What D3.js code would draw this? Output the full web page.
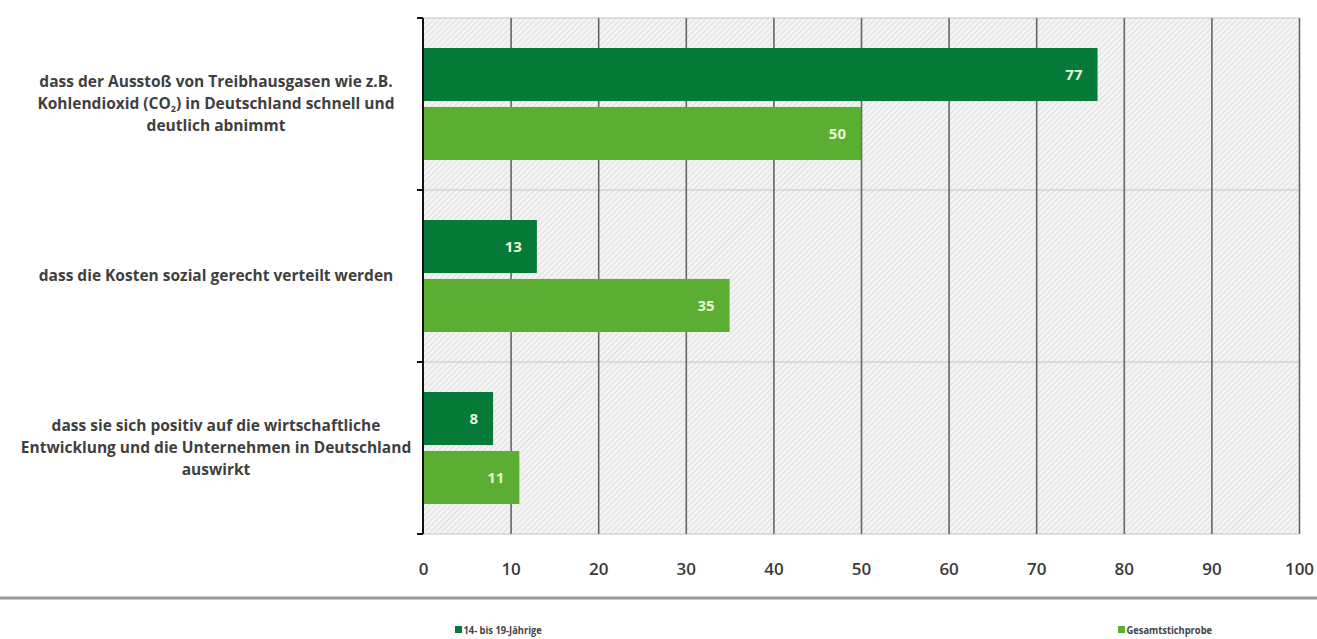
<!DOCTYPE html>
<html lang="de">
<head>
  <meta charset="UTF-8">
  <title>Klimaschutz</title>
  <script src="https://d3js.org/d3.v7.min.js"></script>
  <style>
    * { margin: 0; padding: 0; box-sizing: border-box; }
    body { background: #fff; font-family: "Open Sans", Arial, sans-serif; }
  </style>
</head>
<body>
  <div id="chart"></div>
  <script>
    // data
    const categories = [
      ["dass der Ausstoß von Treibhausgasen wie z.B.", "Kohlendioxid (CO_2) in Deutschland schnell und", "deutlich abnimmt"],
      ["dass die Kosten sozial gerecht verteilt werden"],
      ["dass sie sich positiv auf die wirtschaftliche", "Entwicklung und die Unternehmen in Deutschland", "auswirkt"]
    ];
    const seriesNames = ["14- bis 19-Jährige", "Gesamtstichprobe"];
    const youthValues = [77, 13, 8];
    const totalValues = [50, 35, 11];
    const xTicks = [0, 10, 20, 30, 40, 50, 60, 70, 80, 90, 100];

    const colors = ["#067a38", "#5aae32"];

    const W = 1317, H = 639;
    const plot = {left: 423, right: 1299, top: 18, bottom: 534};

    const svg = d3.select("#chart").append("svg")
      .attr("width", W).attr("height", H);

    const defs = svg.append("defs");
    const pat = defs.append("pattern")
      .attr("id", "hatch")
      .attr("patternUnits", "userSpaceOnUse")
      .attr("width", 4).attr("height", 4)
      .attr("patternTransform", "rotate(45)");
    pat.append("rect").attr("width", 4).attr("height", 4).attr("fill", "#f4f4f4");
    pat.append("line").attr("x1", 0).attr("y1", 0).attr("x2", 0).attr("y2", 4)
      .attr("stroke", "#d9d9d9").attr("stroke-width", 1.6);

    const x = d3.scaleLinear().domain([0, 100]).range([plot.left, plot.right]);
    const y = d3.scaleBand().domain(d3.range(categories.length))
      .range([plot.top, plot.bottom]);
    const yIn = d3.scaleBand().domain(d3.range(seriesNames.length))
      .range([30, y.bandwidth() - 30]).paddingInner(0.1);

    // hatched plot background
    svg.append("rect")
      .attr("x", plot.left).attr("y", plot.top)
      .attr("width", plot.right - plot.left).attr("height", plot.bottom - plot.top)
      .attr("fill", "url(#hatch)");

    // horizontal light grid at category boundaries
    svg.append("g")
      .selectAll("line")
      .data(d3.range(categories.length + 1))
      .join("line")
      .attr("x1", plot.left).attr("x2", plot.right)
      .attr("y1", i => i < categories.length ? y(i) : plot.bottom)
      .attr("y2", i => i < categories.length ? y(i) : plot.bottom)
      .attr("stroke", "#d4d4d4").attr("stroke-width", 1.5);

    // vertical grid + tick labels
    const xAxis = svg.append("g")
      .attr("transform", `translate(0,${plot.bottom})`)
      .call(d3.axisBottom(x).tickValues(xTicks).tickSize(plot.bottom - plot.top).tickPadding(0));
    xAxis.select(".domain").remove();
    xAxis.selectAll(".tick line")
      .attr("y2", -(plot.bottom - plot.top))
      .attr("stroke", "#666").attr("stroke-width", 1.6)
      .attr("opacity", d => d === 0 ? 0 : 1);
    xAxis.selectAll(".tick text")
      .attr("y", 35)
      .attr("dy", "0.35em")
      .attr("fill", "#3a3a3a")
      .style("font-family", "'Open Sans', sans-serif")
      .style("font-weight", 600)
      .style("font-size", "17px");

    // bars
    const rows = categories.map((c, i) => [youthValues[i], totalValues[i]]);
    const groups = svg.append("g").selectAll("g")
      .data(rows)
      .join("g")
      .attr("transform", (d, i) => `translate(0,${y(i)})`);

    groups.selectAll("rect")
      .data(d => d)
      .join("rect")
      .attr("x", x(0))
      .attr("y", (d, j) => yIn(j))
      .attr("width", d => x(d) - x(0))
      .attr("height", yIn.bandwidth())
      .attr("fill", (d, j) => colors[j]);

    groups.selectAll("text")
      .data(d => d)
      .join("text")
      .attr("x", d => x(d) - 15)
      .attr("y", (d, j) => yIn(j) + yIn.bandwidth() / 2)
      .attr("dy", "0.36em")
      .attr("text-anchor", "end")
      .attr("fill", "#eaf6d8")
      .style("font-family", "'Open Sans', sans-serif")
      .style("font-weight", 700)
      .style("font-size", "15px")
      .text(d => d);

    // left axis with outward ticks
    const yAxis = svg.append("g");
    yAxis.append("line")
      .attr("x1", plot.left).attr("x2", plot.left)
      .attr("y1", plot.top).attr("y2", plot.bottom)
      .attr("stroke", "#111").attr("stroke-width", 2);
    yAxis.selectAll(".tk")
      .data(d3.range(categories.length + 1))
      .join("line")
      .attr("class", "tk")
      .attr("x1", plot.left - 6).attr("x2", plot.left)
      .attr("y1", i => i < categories.length ? y(i) : plot.bottom)
      .attr("y2", i => i < categories.length ? y(i) : plot.bottom)
      .attr("stroke", "#111").attr("stroke-width", 2);

    // category labels
    const lineH = 22;
    const labels = svg.append("g").selectAll("g")
      .data(categories)
      .join("g")
      .attr("transform", (d, i) => `translate(216,${y(i) + y.bandwidth() / 2})`);

    labels.each(function(lines) {
      const g = d3.select(this);
      lines.forEach((ln, k) => {
        const t = g.append("text")
          .attr("x", 0)
          .attr("y", (k - (lines.length - 1) / 2) * lineH)
          .attr("dy", "0.35em")
          .attr("text-anchor", "middle")
          .attr("fill", "#3f3f3f")
          .style("font-family", "'Open Sans', sans-serif")
          .style("font-weight", 700)
          .style("font-size", "15.5px");
        const parts = ln.split("_2");
        if (parts.length > 1) {
          t.append("tspan").text(parts[0]);
          t.append("tspan").attr("dy", 3).style("font-size", "9px").text("2");
          t.append("tspan").attr("dy", -3).text(parts[1]);
        } else {
          t.text(ln);
        }
      });
    });

    // separator
    svg.append("line")
      .attr("x1", 0).attr("x2", W)
      .attr("y1", 598).attr("y2", 598)
      .attr("stroke", "#9a9a9a").attr("stroke-width", 3);

    // legend
    const legendX = [455, 1118];
    const legend = svg.append("g").selectAll("g")
      .data(seriesNames)
      .join("g")
      .attr("transform", (d, i) => `translate(${legendX[i]},630)`);
    legend.append("rect")
      .attr("x", 0).attr("y", -4)
      .attr("width", 7).attr("height", 7)
      .attr("fill", (d, i) => colors[i]);
    legend.append("text")
      .attr("x", 10).attr("y", 0)
      .attr("dy", "0.35em")
      .attr("transform", "scale(0.85,1)")
      .attr("fill", "#444")
      .style("font-family", "'Open Sans', sans-serif")
      .style("font-weight", 700)
      .style("font-size", "11px")
      .text(d => d);
  </script>
</body>
</html>
